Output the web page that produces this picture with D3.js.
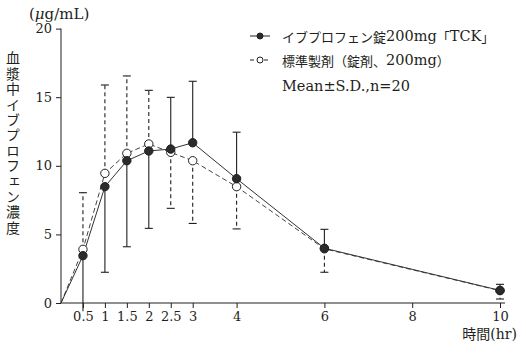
<!DOCTYPE html>
<html lang="ja">
<head>
<meta charset="UTF-8">
<title>血漿中イブプロフェン濃度</title>
<script src="https://d3js.org/d3.v7.min.js"></script>
<style>
  body { margin: 0; padding: 0; background: #fff; }
  svg text { font-family: "DejaVu Serif", "Noto Sans CJK JP", serif; fill: #231f20; }
</style>
</head>
<body>
<svg id="chart" width="526" height="353"></svg>
<script>
// time points (hr)
const times = [0.5, 1, 1.5, 2, 2.5, 3, 4, 6, 10];
// イブプロフェン錠200mg「TCK」
const tckMean = [3.45, 8.48, 10.37, 11.08, 11.22, 11.68, 9.06, 3.99, 0.92];
const tckSD   = [4.05, 6.24, 6.27, 5.64, 3.77, 4.48, 3.39, 1.38, 0.44];
// 標準製剤（錠剤、200mg）
const refMean = [3.91, 9.45, 10.91, 11.59, 10.98, 10.37, 8.48, 3.95, 0.9];
const refSD   = [4.13, 6.44, 5.64, 3.91, 4.08, 4.57, 3.08, 1.71, 0.61];

const xTicks = [0.5, 1, 1.5, 2, 2.5, 3, 4, 6, 8, 10];
const yTicks = [0, 5, 10, 15, 20];
const legendLabels = ["イブプロフェン錠200mg「TCK」", "標準製剤（錠剤、200mg）", "Mean±S.D.,n=20"];
const yTitle = "血漿中イブプロフェン濃度";

const ink = "#231f20";
const svg = d3.select("#chart");

const x = d3.scaleLinear().domain([0, 10]).range([61, 500]);
const y = d3.scaleLinear().domain([0, 20]).range([303, 28.6]);

// split a label into CJK / latin runs so each gets its own size
const cjkRe = /[\u3000-\u30ff\u4e00-\u9fff\uff00-\uffef]/;
function mixedText(sel, str, cjkSize, latinSize) {
    const runs = str.match(/[\u3000-\u30ff\u4e00-\u9fff\uff00-\uffef]+|[^\u3000-\u30ff\u4e00-\u9fff\uff00-\uffef]+/g);
    runs.forEach(r => {
        const cjk = cjkRe.test(r);
        sel.append("tspan")
            .attr("font-size", cjk ? cjkSize : latinSize)
            .style("font-family", cjk ? "'Noto Sans CJK JP', sans-serif" : "'DejaVu Serif', serif")
            .text(r);
    });
}

// axes
const xAxis = svg.append("g")
    .attr("transform", `translate(0,${y(0)})`)
    .call(d3.axisBottom(x).tickValues(xTicks).tickSize(5).tickPadding(4)
        .tickFormat(d3.format("")));
xAxis.select(".domain").remove();
xAxis.selectAll("line").attr("stroke", ink);
xAxis.selectAll("text").attr("font-size", 13).attr("fill", ink)
    .style("font-family", "'DejaVu Serif', serif");

svg.append("line")
    .attr("x1", x(0)).attr("x2", x(10) + 5)
    .attr("y1", y(0)).attr("y2", y(0))
    .attr("stroke", ink).attr("stroke-width", 1);

const yAxis = svg.append("g")
    .attr("transform", `translate(${x(0)},0)`)
    .call(d3.axisLeft(y).tickValues(yTicks).tickSize(5).tickPadding(4));
yAxis.select(".domain").attr("stroke", ink).attr("d", `M0,${y(20)}V${y(0)}`);
yAxis.selectAll("line").attr("stroke", ink);
yAxis.selectAll("text").attr("font-size", 13).attr("fill", ink)
    .style("font-family", "'DejaVu Serif', serif");

// unit label
svg.append("text")
    .attr("x", 29).attr("y", 19)
    .attr("font-size", 15)
    .html('(<tspan font-style="italic">μ</tspan>g/mL)');

// x axis title
mixedText(svg.append("text")
    .attr("x", 517).attr("y", 339)
    .attr("text-anchor", "end"), "時間(hr)", 14, 14);

// y axis title, vertical
svg.append("text")
    .attr("x", 13)
    .attr("y", 51)
    .attr("font-size", 14)
    .style("font-family", "'Noto Sans CJK JP', sans-serif")
    .style("writing-mode", "vertical-rl")
    .style("text-orientation", "upright")
    .style("letter-spacing", "1.4px")
    .text(yTitle);

const lineGen = d3.line().x(d => x(d[0])).y(d => y(d[1]));

const tckPts = [[0, 0]].concat(times.map((t, i) => [t, tckMean[i]]));
const refPts = [[0, 0]].concat(times.map((t, i) => [t, refMean[i]]));

svg.append("path")
    .attr("d", lineGen(refPts))
    .attr("fill", "none").attr("stroke", "#444").attr("stroke-width", 1)
    .attr("stroke-dasharray", "5,3");

svg.append("path")
    .attr("d", lineGen(tckPts))
    .attr("fill", "none").attr("stroke", "#333").attr("stroke-width", 1);

// error bars: the higher series draws up, the lower series draws down
function errorBars(mean, sd, other, dash) {
    const g = svg.append("g");
    times.forEach((t, i) => {
        const up = mean[i] >= other[i];
        const end = up ? mean[i] + sd[i] : mean[i] - sd[i];
        g.append("line")
            .attr("x1", x(t)).attr("x2", x(t))
            .attr("y1", y(mean[i])).attr("y2", y(end))
            .attr("stroke", ink).attr("stroke-width", 1.1)
            .attr("stroke-dasharray", dash);
        if (end < 0) return;
        g.append("line")
            .attr("x1", x(t) - 4).attr("x2", x(t) + 4)
            .attr("y1", y(end)).attr("y2", y(end))
            .attr("stroke", ink).attr("stroke-width", 1.1);
    });
}
errorBars(refMean, refSD, tckMean, "4,3");
errorBars(tckMean, tckSD, refMean, null);

// markers
svg.append("g").selectAll("circle")
    .data(times.map((t, i) => [t, refMean[i]]))
    .join("circle")
    .attr("cx", d => x(d[0])).attr("cy", d => y(d[1]))
    .attr("r", 4.2)
    .attr("fill", "#fff").attr("stroke", ink).attr("stroke-width", 1);

svg.append("g").selectAll("circle")
    .data(times.map((t, i) => [t, tckMean[i]]))
    .join("circle")
    .attr("cx", d => x(d[0])).attr("cy", d => y(d[1]))
    .attr("r", 4.2)
    .attr("fill", "#2b2b2b").attr("stroke", ink).attr("stroke-width", 1);

// legend
const legend = svg.append("g");
const rows = [36, 60, 86];
legend.append("line").attr("x1", 250).attr("x2", 270).attr("y1", rows[0]).attr("y2", rows[0])
    .attr("stroke", ink);
legend.append("circle").attr("cx", 260).attr("cy", rows[0]).attr("r", 3)
    .attr("fill", "#2b2b2b").attr("stroke", ink);
legend.append("line").attr("x1", 250).attr("x2", 270).attr("y1", rows[1]).attr("y2", rows[1])
    .attr("stroke", ink).attr("stroke-dasharray", "4,3");
legend.append("circle").attr("cx", 260).attr("cy", rows[1]).attr("r", 3)
    .attr("fill", "#fff").attr("stroke", ink);
legendLabels.forEach((lab, i) => {
    mixedText(legend.append("text")
        .attr("x", 282)
        .attr("y", rows[i])
        .attr("dominant-baseline", "central"), lab, 13, 14.5);
});
</script>
</body>
</html>
